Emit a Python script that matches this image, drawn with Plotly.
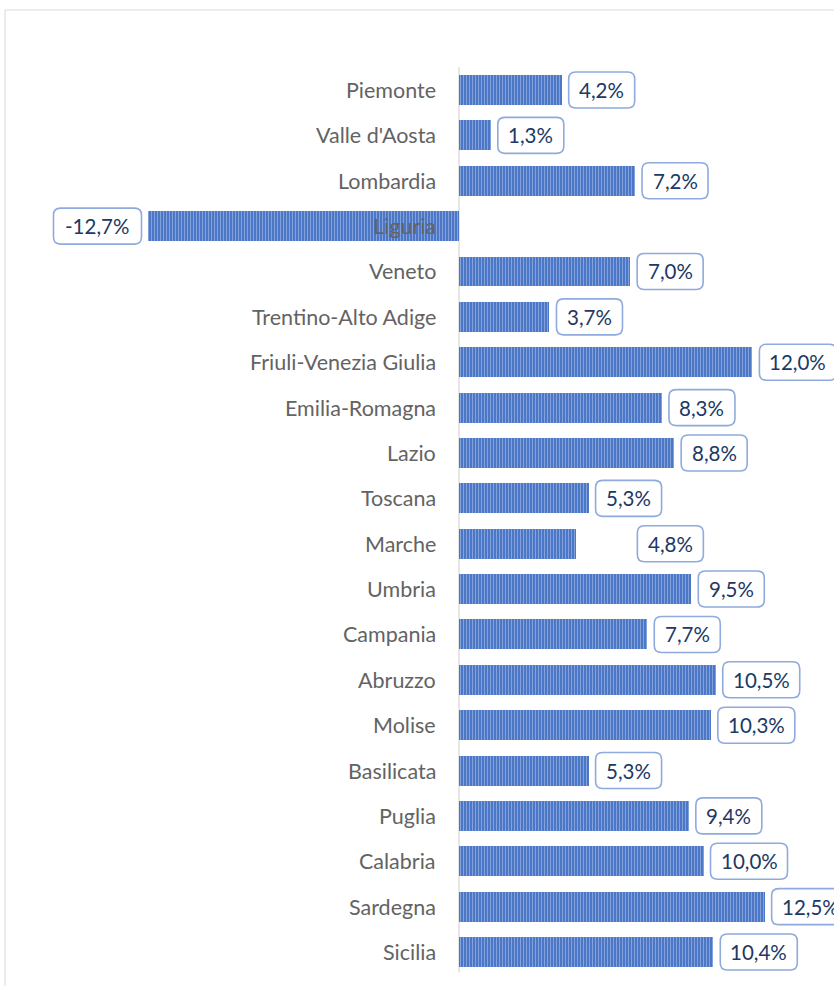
import plotly.graph_objects as go

regions = ["Piemonte", "Valle d'Aosta", "Lombardia", "Liguria", "Veneto",
           "Trentino-Alto Adige", "Friuli-Venezia Giulia", "Emilia-Romagna", "Lazio",
           "Toscana", "Marche", "Umbria", "Campania", "Abruzzo", "Molise",
           "Basilicata", "Puglia", "Calabria", "Sardegna", "Sicilia"]
values = [4.2, 1.3, 7.2, -12.7, 7.0, 3.7, 12.0, 8.3, 8.8, 5.3, 4.8, 9.5, 7.7,
          10.5, 10.3, 5.3, 9.4, 10.0, 12.5, 10.4]
labels = [f"{v:.1f}%".replace(".", ",") for v in values]

# extra manual label shifts (pixels), as in the original chart
label_extra_shift = {"Marche": 54}

W, H = 834, 986
ZERO_PX = 459
PX_PER_UNIT = 24.45
ROW0_PX = 90
ROW_STEP = 45.37

x_range = [-ZERO_PX / PX_PER_UNIT, (W - ZERO_PX) / PX_PER_UNIT]
y_range = [(H - ROW0_PX) / ROW_STEP, -ROW0_PX / ROW_STEP]

idx = list(range(len(regions)))

fig = go.Figure()
fig.add_trace(go.Bar(
    x=values, y=idx, orientation="h", width=0.66,
    marker=dict(color="#4472C4", line=dict(width=0),
                pattern=dict(shape="|", fgcolor="#C2D2F0", bgcolor="#4472C4",
                             size=3, solidity=0.4, fillmode="overlay")),
    hoverinfo="skip", showlegend=False,
))

shapes = []
annotations = []

# outer chart frame
shapes.append(dict(type="rect", xref="paper", yref="paper",
                   x0=5 / W, x1=1.05, y0=-0.05, y1=1 - 10 / H,
                   line=dict(color="#D9D9D9", width=1), fillcolor="rgba(0,0,0,0)",
                   layer="below"))
# zero axis line
shapes.append(dict(type="line", xref="x", yref="y", x0=0, x1=0, y0=-0.5, y1=len(regions) - 0.55,
                   line=dict(color="#D9D9D9", width=1.3), layer="below"))

FONT = "Lato, 'Open Sans', sans-serif"


def rounded_rect(x0, x1, y0, y1, r):
    return (f"M{x0 + r},{y0} L{x1 - r},{y0} Q{x1},{y0} {x1},{y0 + r} "
            f"L{x1},{y1 - r} Q{x1},{y1} {x1 - r},{y1} L{x0 + r},{y1} "
            f"Q{x0},{y1} {x0},{y1 - r} L{x0},{y0 + r} Q{x0},{y0} {x0 + r},{y0} Z")


for i, (name, v, lab) in enumerate(zip(regions, values, labels)):
    annotations.append(dict(x=0, y=i, xref="x", yref="y", text=name, showarrow=False,
                            xanchor="right", xshift=-21,
                            font=dict(family=FONT, size=21.5, color="#636363")))
    bw = len(lab) * 11 + 22
    bh = 36
    gap = 7 + label_extra_shift.get(name, 0)
    cx = (gap + bw / 2) * (1 if v >= 0 else -1)
    shapes.append(dict(type="path", xref="x", yref="y", xsizemode="pixel", ysizemode="pixel",
                       xanchor=v, yanchor=i,
                       path=rounded_rect(cx - bw / 2, cx + bw / 2, -bh / 2, bh / 2, 7),
                       line=dict(color="#8FAADC", width=1.6), fillcolor="white"))
    annotations.append(dict(x=v, y=i, xref="x", yref="y", text=lab, showarrow=False,
                            xanchor="center", xshift=cx,
                            font=dict(family=FONT, size=20.5, color="#203864")))

fig.update_layout(
    width=W, height=H,
    margin=dict(l=0, r=0, t=0, b=0),
    paper_bgcolor="white", plot_bgcolor="white",
    xaxis=dict(range=x_range, visible=False, fixedrange=True),
    yaxis=dict(range=y_range, visible=False, fixedrange=True),
    shapes=shapes, annotations=annotations,
    bargap=0,
)

fig.write_html("out.html", config={"displayModeBar": False},
               post_script="document.body.style.margin='0';document.body.style.overflow='hidden';")
